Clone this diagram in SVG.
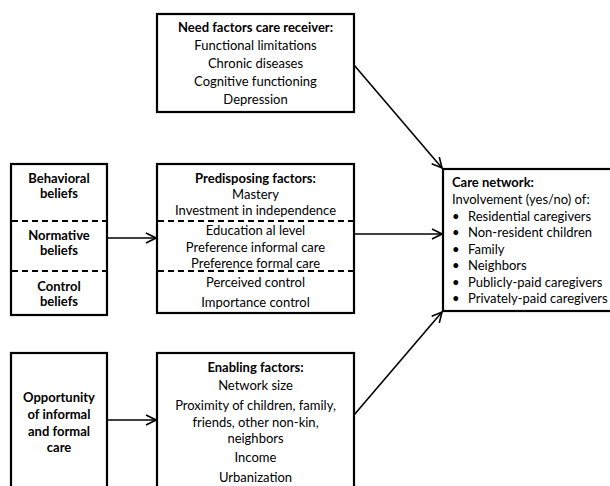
<svg xmlns="http://www.w3.org/2000/svg" width="610" height="486" viewBox="0 0 610 486">
<style>
text{font-family:Lato,"Open Sans","Liberation Sans",sans-serif;font-size:13px;fill:#000}
.c{text-anchor:middle}
.b{font-weight:bold}
.box{fill:#fff;stroke:#000;stroke-width:2.2}
.dash{stroke:#000;stroke-width:1.8;stroke-dasharray:6 4;fill:none}
.con{stroke:#000;stroke-width:1.6;fill:none;marker-end:url(#ah)}
</style>
<defs>
<marker id="ah" viewBox="0 0 12 12" refX="11" refY="6" markerWidth="12" markerHeight="12" markerUnits="userSpaceOnUse" orient="auto">
<path d="M1,1 L11,6 L1,11" fill="none" stroke="#000" stroke-width="1.6"/>
</marker>
</defs>
<g id="connectors">
<path class="con" d="M354,65 L442,168"/>
<path class="con" d="M107,238 L156,238"/>
<path class="con" d="M354,234 L442,234"/>
<path class="con" d="M107,420 L156,420"/>
<path class="con" d="M354,415 L442,312"/>
</g>
<g id="need">
<rect class="box" x="157" y="14" width="197" height="98"/>
<text class="c b" x="255.5" y="32">Need factors care receiver:</text>
<text class="c" x="255.5" y="50">Functional limitations</text>
<text class="c" x="255.5" y="68">Chronic diseases</text>
<text class="c" x="255.5" y="86">Cognitive functioning</text>
<text class="c" x="255.5" y="104">Depression</text>
</g>
<g id="beliefs">
<rect class="box" x="11" y="164" width="96" height="151"/>
<line class="dash" x1="12" y1="221" x2="106" y2="221"/>
<line class="dash" x1="12" y1="271" x2="106" y2="271"/>
<text class="c b" x="59" y="183">Behavioral</text>
<text class="c b" x="59" y="198">beliefs</text>
<text class="c b" x="59" y="240">Normative</text>
<text class="c b" x="59" y="255">beliefs</text>
<text class="c b" x="59" y="291">Control</text>
<text class="c b" x="59" y="306">beliefs</text>
</g>
<g id="predisposing">
<rect class="box" x="157" y="164" width="197" height="149"/>
<line class="dash" x1="158" y1="221" x2="353" y2="221"/>
<line class="dash" x1="158" y1="271" x2="353" y2="271"/>
<text class="c b" x="255.5" y="183">Predisposing factors:</text>
<text class="c" x="255.5" y="199">Mastery</text>
<text class="c" x="255.5" y="215">Investment in independence</text>
<text class="c" x="255.5" y="235">Education al level</text>
<text class="c" x="255.5" y="252">Preference informal care</text>
<text class="c" x="255.5" y="268">Preference formal care</text>
<text class="c" x="255.5" y="287">Perceived control</text>
<text class="c" x="255.5" y="307">Importance control</text>
</g>
<g id="care-network">
<rect class="box" x="443" y="169" width="180" height="142"/>
<text class="b" x="452" y="187">Care network:</text>
<text x="452" y="204">Involvement (yes/no) of:</text>
<g>
<text x="452" y="221">•</text><text x="468" y="221">Residential caregivers</text>
<text x="452" y="237">•</text><text x="468" y="237">Non-resident children</text>
<text x="452" y="254">•</text><text x="468" y="254">Family</text>
<text x="452" y="270">•</text><text x="468" y="270">Neighbors</text>
<text x="452" y="287">•</text><text x="468" y="287">Publicly-paid caregivers</text>
<text x="452" y="303">•</text><text x="468" y="303">Privately-paid caregivers</text>
</g>
</g>
<g id="opportunity">
<rect class="box" x="11" y="353" width="96" height="150"/>
<text class="c b" x="59" y="402">Opportunity</text>
<text class="c b" x="59" y="419">of informal</text>
<text class="c b" x="59" y="436">and formal</text>
<text class="c b" x="59" y="452">care</text>
</g>
<g id="enabling">
<rect class="box" x="157" y="353" width="197" height="150"/>
<text class="c b" x="255.5" y="372">Enabling factors:</text>
<text class="c" x="255.5" y="390">Network size</text>
<text class="c" x="255.5" y="410">Proximity of children, family,</text>
<text class="c" x="255.5" y="427">friends, other non-kin,</text>
<text class="c" x="255.5" y="443">neighbors</text>
<text class="c" x="255.5" y="462">Income</text>
<text class="c" x="255.5" y="482">Urbanization</text>
</g>
</svg>
